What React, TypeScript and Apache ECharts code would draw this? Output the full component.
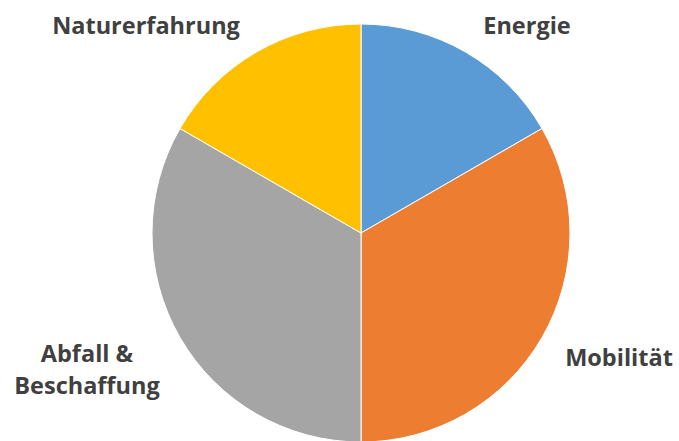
import React, { useEffect, useRef } from "react";
import * as echarts from "echarts";

const categories = ["Energie", "Mobilität", "Abfall &\nBeschaffung", "Naturerfahrung"];
const values = [1, 2, 2, 1];
const colors = ["#5B9BD5", "#ED7D31", "#A5A5A5", "#FFC000"];
const labelPos: [number, number][] = [
  [527, 25],
  [619, 357],
  [87, 369],
  [146, 25],
];

export default function App() {
  const ref = useRef<HTMLDivElement>(null);
  useEffect(() => {
    document.body.style.margin = "0";
    const chart = echarts.init(ref.current!, undefined, { renderer: "svg" });
    chart.setOption({
      animation: false,
      backgroundColor: "#ffffff",
      series: [
        {
          type: "pie",
          center: [361, 233],
          radius: 209,
          startAngle: 90,
          clockwise: true,
          data: categories.map((name, i) => ({
            name,
            value: values[i],
            itemStyle: { color: colors[i] },
          })),
          itemStyle: { borderColor: "#ffffff", borderWidth: 1 },
          label: {
            show: true,
            position: "outside",
            formatter: "{b}",
            color: "#404040",
            fontFamily: "Open Sans",
            fontWeight: "bold",
            fontSize: 23.5,
            lineHeight: 32,
            align: "center",
            overflow: "none",
            width: 300,
          },
          labelLine: { show: false },
          labelLayout: (params: any) => {
            const p = labelPos[params.dataIndex];
            return { x: p[0], y: p[1], align: "center", verticalAlign: "middle" };
          },
          emphasis: { disabled: true },
        },
      ],
    });
    return () => chart.dispose();
  }, []);
  return <div ref={ref} style={{ width: 679, height: 441 }} />;
}
